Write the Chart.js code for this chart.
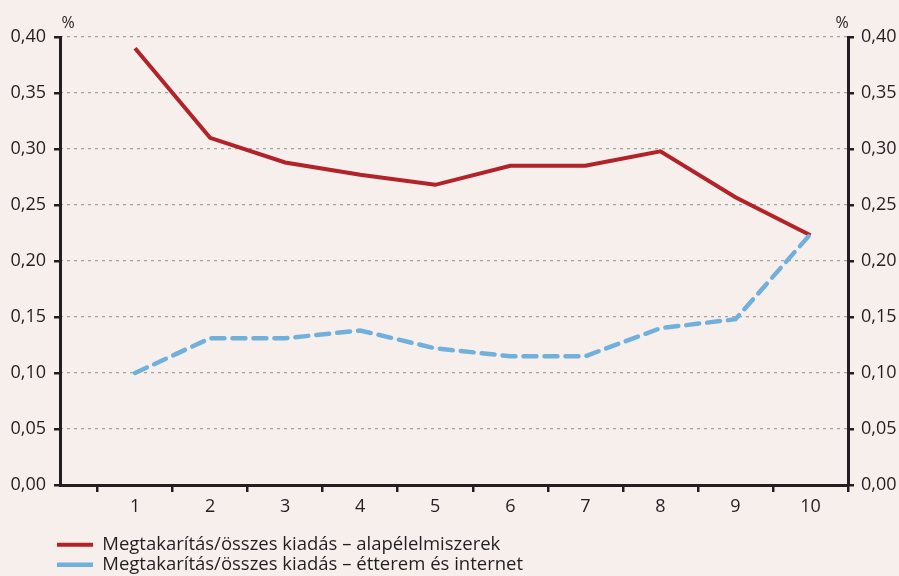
<!DOCTYPE html>
<html>
<head>
<meta charset="utf-8">
<script src="https://cdn.jsdelivr.net/npm/chart.js@4/dist/chart.umd.min.js"></script>
<style>
  html, body { margin: 0; padding: 0; background: #f6efec; }
  #wrap { width: 899px; height: 576px; }
</style>
</head>
<body>
<div id="wrap"><canvas id="c" width="899" height="576"></canvas></div>
<script>
// ---- data ----
const categories = [1, 2, 3, 4, 5, 6, 7, 8, 9, 10];
const seriesNames = [
  'Megtakarítás/összes kiadás – alapélelmiszerek',
  'Megtakarítás/összes kiadás – étterem és internet'
];
const basicFood = [0.390, 0.310, 0.288, 0.277, 0.268, 0.285, 0.285, 0.298, 0.257, 0.223];
const restaurantInternet = [0.100, 0.131, 0.131, 0.138, 0.122, 0.115, 0.115, 0.140, 0.148, 0.224];
const yTickValues = [0, 0.05, 0.10, 0.15, 0.20, 0.25, 0.30, 0.35, 0.40];
const xBoundaryTicks = [0.5, 1.5, 2.5, 3.5, 4.5, 5.5, 6.5, 7.5, 8.5, 9.5, 10.5];
const unitLabel = '%';

const BG = '#f6efec';
const INK = '#231f20';
const FONT = '"Open Sans", Lato, sans-serif';

const toPoints = arr => categories.map((c, i) => ({ x: c, y: arr[i] }));
const fmt = v => Number(v).toFixed(2).replace('.', ',');

const bgPlugin = {
  id: 'bg',
  beforeDraw(chart) {
    const ctx = chart.ctx;
    ctx.save();
    ctx.fillStyle = BG;
    ctx.fillRect(0, 0, chart.width, chart.height);
    ctx.restore();
  }
};

const unitPlugin = {
  id: 'unit',
  afterDraw(chart) {
    const a = chart.chartArea, ctx = chart.ctx;
    ctx.save();
    ctx.fillStyle = INK;
    ctx.font = '16px ' + FONT;
    ctx.textAlign = 'center';
    ctx.textBaseline = 'middle';
    ctx.fillText(unitLabel, a.left + 8, a.top - 14);
    ctx.fillText(unitLabel, a.right - 6, a.top - 14);
    ctx.restore();
  }
};

const LEGEND_W = 560;
const legendPlugin = {
  id: 'legendTweak',
  beforeLayout(chart) {
    const lg = chart.legend;
    if (lg && !lg._patched) {
      const u = lg.update.bind(lg);
      lg.update = (w, h, m) => u(Math.min(w, LEGEND_W), h, m);
      lg._patched = true;
    }
  },
  afterLayout(chart) {
    const lg = chart.legend;
    if (lg) {
      lg.left = 55.5;
      lg.right = 55.5 + LEGEND_W;
      lg.width = LEGEND_W;
      lg.top += 8;
      lg.bottom += 8;
    }
  }
};

new Chart(document.getElementById('c'), {
  type: 'line',
  data: {
    datasets: [
      {
        label: seriesNames[0],
        data: toPoints(basicFood),
        borderColor: '#b22229',
        backgroundColor: '#b22229',
        borderWidth: 4,
        pointRadius: 0,
        tension: 0,
        order: 1,
        xAxisID: 'x', yAxisID: 'y'
      },
      {
        label: seriesNames[1],
        data: toPoints(restaurantInternet),
        borderColor: '#72b0dc',
        backgroundColor: '#72b0dc',
        borderWidth: 4.5,
        borderDash: [13, 8],
        borderCapStyle: 'round',
        pointRadius: 0,
        tension: 0,
        order: 0,
        xAxisID: 'x', yAxisID: 'y'
      }
    ]
  },
  options: {
    responsive: false,
    animation: false,
    devicePixelRatio: 1,
    layout: { padding: { top: 37, left: 10, right: 2, bottom: 0 } },
    plugins: {
      tooltip: { enabled: false },
      legend: {
        position: 'bottom',
        align: 'start',
        labels: {
          usePointStyle: true,
          pointStyle: 'line',
          pointStyleWidth: 36,
          padding: 1.5,
          color: INK,
          font: { family: FONT, size: 18.5 },
          sort: (a, b) => a.datasetIndex - b.datasetIndex
        }
      }
    },
    scales: {
      x: {
        type: 'linear',
        position: 'bottom',
        weight: 0,
        min: 0, max: 10.5,
        afterBuildTicks: s => { s.ticks = xBoundaryTicks.map(v => ({ value: v })); },
        afterFit: s => { s.height = 7; },
        ticks: { display: false },
        grid: { display: true, drawOnChartArea: false, drawTicks: true, tickLength: 7, tickColor: INK, tickWidth: 2.5, lineWidth: 2.5 },
        border: { display: true, color: INK, width: 3 }
      },
      xl: {
        type: 'linear',
        position: 'bottom',
        weight: 1,
        min: 0, max: 10.5,
        afterBuildTicks: s => { s.ticks = categories.map(v => ({ value: v })); },
        afterFit: s => { s.height = 34; },
        ticks: { color: INK, font: { family: FONT, size: 18 }, padding: -4, maxRotation: 0, autoSkip: false, callback: v => String(v) },
        grid: { display: false },
        border: { display: false }
      },
      y: {
        position: 'left',
        min: 0, max: 0.4,
        afterBuildTicks: s => { s.ticks = yTickValues.map(v => ({ value: v })); },
        afterFit: s => { s.width = 50; },
        ticks: { color: INK, font: { family: FONT, size: 18 }, padding: 8, callback: v => fmt(v) },
        grid: { drawOnChartArea: false, tickLength: 6, tickColor: INK, tickWidth: 2.5, lineWidth: 2.5 },
        border: { display: true, color: INK, width: 3 }
      },
      y2: {
        position: 'right',
        min: 0, max: 0.4,
        afterBuildTicks: s => { s.ticks = yTickValues.map(v => ({ value: v })); },
        afterFit: s => { s.width = 49; },
        ticks: { color: INK, font: { family: FONT, size: 18 }, padding: 7, callback: v => fmt(v) },
        grid: { drawOnChartArea: false, tickLength: 6, tickColor: INK, tickWidth: 2.5, lineWidth: 2.5 },
        border: { display: true, color: INK, width: 3 }
      },
      yg: {
        position: 'left',
        min: 0, max: 0.4,
        weight: -1,
        afterBuildTicks: s => { s.ticks = yTickValues.map(v => ({ value: v })); },
        afterFit: s => { s.width = 0; },
        ticks: { display: false },
        grid: { drawOnChartArea: true, drawTicks: false, color: '#a3a3a3', lineWidth: 1.2 },
        border: { display: false, dash: [3, 4] }
      }
    }
  },
  plugins: [bgPlugin, unitPlugin, legendPlugin]
});
</script>
</body>
</html>
